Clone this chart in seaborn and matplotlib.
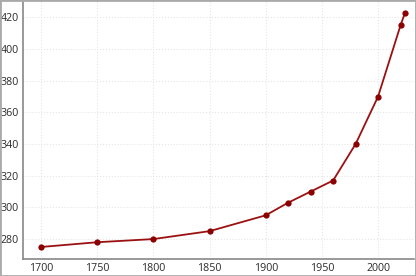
import matplotlib
matplotlib.use("Agg")
import matplotlib.pyplot as plt
import seaborn as sns
import pandas as pd
from matplotlib.patches import Rectangle

years = [1700, 1750, 1800, 1850, 1900, 1920, 1940, 1960, 1980, 2000, 2020, 2024]
co2_ppm = [275, 278, 280, 285, 295, 303, 310, 317, 340, 370, 415, 423]
x_ticks = [1700, 1750, 1800, 1850, 1900, 1950, 2000]
y_ticks = [280, 300, 320, 340, 360, 380, 400, 420]

df = pd.DataFrame({"year": years, "ppm": co2_ppm})

sns.set_theme(style="white")
plt.rcParams['font.family'] = ['Open Sans', 'DejaVu Sans']

W, H = 416, 276
fig = plt.figure(figsize=(W / 100, H / 100), dpi=100)
ax = fig.add_axes([23 / W, 17.3 / H, (414 - 23) / W, (258.7 - 1) / H])

sns.lineplot(data=df, x="year", y="ppm", ax=ax, color="#9b1111", linewidth=1.3,
             marker="o", markersize=4.5, markeredgewidth=0,
             markerfacecolor="#8b0000")

ax.set_xlim(1684, 2032)
ax.set_ylim(267.6, 430.4)
ax.set_xticks(x_ticks)
ax.set_yticks(y_ticks)
ax.set_xlabel("")
ax.set_ylabel("")
ax.grid(True, color="#e6e6e6", linestyle=":", linewidth=0.8)
for s in ["top", "right"]:
    ax.spines[s].set_visible(False)
for s in ["left", "bottom"]:
    ax.spines[s].set_color("#888888")
    ax.spines[s].set_linewidth(1.2)
ax.tick_params(axis="both", labelsize=7.7, labelcolor="#2a2a2a", length=2, width=0.8,
               pad=1.2, color="#888888")

fig.patches.append(Rectangle((0, 0), 1, 1, transform=fig.transFigure, fill=False,
                             edgecolor="#aaaaaa", linewidth=2.0))

fig.savefig("out.png", dpi=100)
